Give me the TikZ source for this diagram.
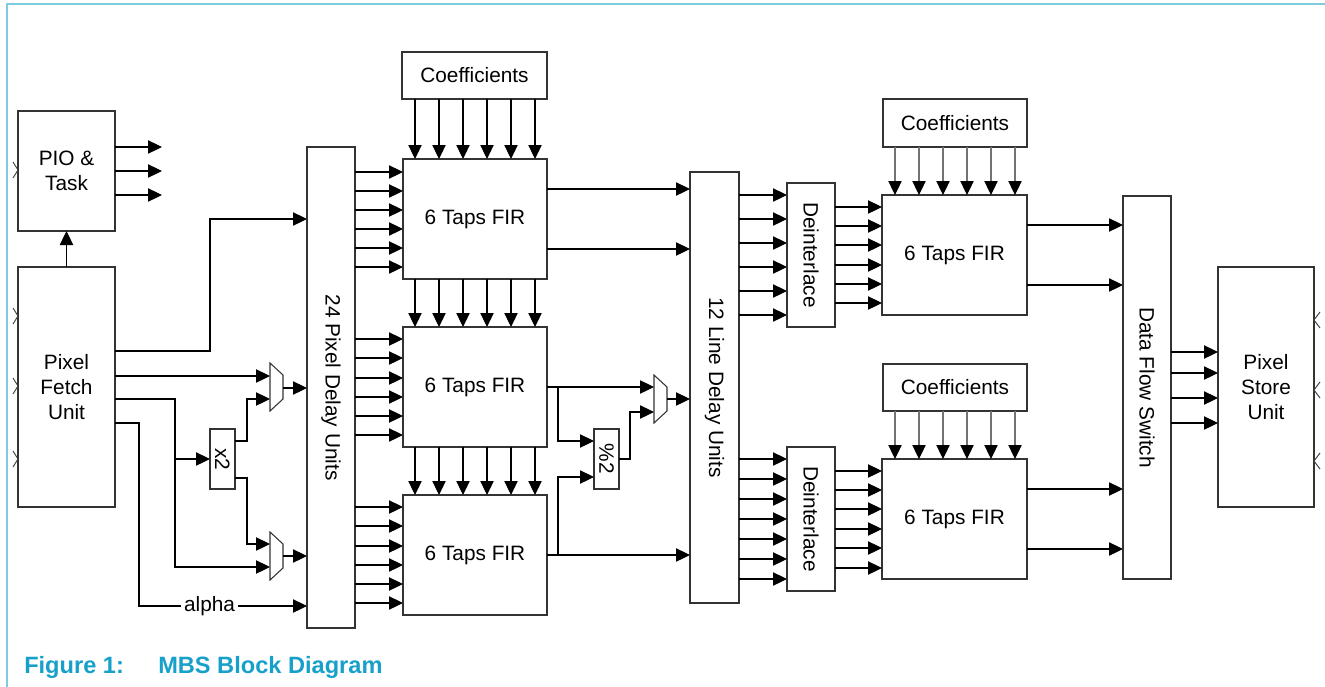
\documentclass[tikz,border=0pt]{standalone}
\usepackage{fontspec}
\usepackage{graphicx}
\setmainfont{Liberation Sans}
\usetikzlibrary{arrows.meta}
\definecolor{frame}{RGB}{125,203,224}
\definecolor{capc}{RGB}{22,160,202}
\begin{document}
\begin{tikzpicture}[x=0.75pt,y=-0.75pt,
  box/.style={draw=black!80, line width=0.8pt, fill=white, outer sep=0pt, inner sep=0pt,
              font=\fontsize{15.6}{19}\selectfont, align=center},
  muxbox/.style={draw=black!80, line width=0.8pt, fill=white},
  arr/.style={-{Triangle[length=10.5pt,width=10pt]}, line width=0.8pt, black},
  arrg/.style={-{Triangle[length=10.5pt,width=10pt,color=black]}, line width=0.8pt, draw=black!55},
  chev/.style={draw=black!75, line width=0.7pt},
  lbl/.style={font=\fontsize{15.6}{19}\selectfont, fill=white, inner sep=2pt},
  capstyle/.style={anchor=base west, inner sep=0pt, text=capc, font=\bfseries\fontsize{17.7}{21}\selectfont}]
\useasboundingbox (0,0) rectangle (1325,686);
\fill[white] (0,0) rectangle (1325,686);
\draw[frame, line width=1.6pt] (7,690) -- (7,4) -- (1330,4);

\newcommand\bx[6]{\node[box, minimum width={(#4-#2)*0.75pt}, minimum height={(#5-#3)*0.75pt}] (#1) at ({(#2+#4)/2},{(#3+#5)/2}) {#6};}

\bx{pio}{18}{111}{115}{231}{PIO \&\\Task}
\bx{pfu}{18}{267}{115}{507}{Pixel\\Fetch\\Unit}
\bx{xtwo}{210}{429}{235}{489}{\rotatebox{-90}{x2}}
\bx{pdu}{307}{147}{355}{628}{\rotatebox{-90}{24 Pixel Delay Units}}
\bx{coefA}{402}{52}{547}{99}{Coefficients}
\bx{firA}{403}{159}{547}{279}{6 Taps FIR}
\bx{firB}{403}{327}{547}{447}{6 Taps FIR}
\bx{firC}{403}{495}{547}{615}{6 Taps FIR}
\bx{pct}{594}{429}{619}{489}{\rotatebox{-90}{\%2}}
\bx{ldu}{690}{172}{739}{603}{\rotatebox{-90}{12 Line Delay Units}}
\bx{deiA}{787}{183}{835}{327}{\rotatebox{-90}{Deinterlace}}
\bx{deiB}{787}{447}{835}{591}{\rotatebox{-90}{Deinterlace}}
\bx{coefB}{883}{99}{1027}{147}{Coefficients}
\bx{firD}{882}{195}{1027}{315}{6 Taps FIR}
\bx{coefC}{883}{364}{1027}{411}{Coefficients}
\bx{firE}{882}{459}{1027}{579}{6 Taps FIR}
\bx{dfs}{1123}{196}{1171}{579}{\rotatebox{-90}{Data Flow Switch}}
\bx{psu}{1218}{267}{1314}{507}{Pixel\\Store\\Unit}

% multiplexers
\draw[muxbox] (270,363) -- (283,375) -- (283,399) -- (270,411) -- cycle;
\draw[muxbox] (270,532) -- (283,544) -- (283,568) -- (270,580) -- cycle;
\draw[muxbox] (654,375) -- (667,387) -- (667,411) -- (654,423) -- cycle;
\coordinate (m1a) at (270,376); \coordinate (m1b) at (270,399); \coordinate (m1o) at (283,388);
\coordinate (m2a) at (270,544); \coordinate (m2b) at (270,567); \coordinate (m2o) at (283,556);
\coordinate (m3a) at (654,387); \coordinate (m3b) at (654,412); \coordinate (m3o) at (667,399);

% PIO outputs
\foreach \yy [count=\k] in {147,171,195}{
  \coordinate (po\k) at (162,\yy);
  \draw[arr] (pio.east |- po\k) -- (po\k);
}
\draw[arr] (pfu.north) -- (pio.south);

% chevrons
\foreach \yy in {170}{ \draw[chev] (pio.west |- 0,\yy) ++(-5,-8) -- ++(5,8) -- ++(-5,8); }
\foreach \yy in {316,386,459}{ \draw[chev] (pfu.west |- 0,\yy) ++(-5,-8) -- ++(5,8) -- ++(-5,8); }
\foreach \yy in {320,390,461}{ \draw[chev] (psu.east |- 0,\yy) ++(6,-8) -- ++(-6,8) -- ++(6,8); }

% Pixel fetch wiring
\draw[arr] (pfu.east |- 0,351) -| (210,219) -- (pdu.west |- 0,219);
\draw[arr] (pfu.east |- 0,376) -- (m1a);
\draw[arr] (pfu.east |- 0,399) -| (175,567) -- (m2b);
\draw[arr] (175,459) -- (xtwo.west);
\draw[arr] (pfu.east |- 0,423) -| (139,606) -- node[lbl,pos=0.42]{alpha} (pdu.west |- 0,606);
\draw[arr] (xtwo.east |- 0,441) -| (247,399) -- (m1b);
\draw[arr] (xtwo.east |- 0,478) -| (247,544) -- (m2a);
\draw[arr] (m1o) -- (pdu.west |- m1o);
\draw[arr] (m2o) -- (pdu.west |- m2o);

% coefficient arrows (left)
\foreach \i [evaluate=\i as \xx using 415+24*\i] in {0,...,5}{
  \draw[arr] (coefA.south -| \xx,0) -- (firA.north -| \xx,0);
  \draw[arr] (firA.south -| \xx,0) -- (firB.north -| \xx,0);
  \draw[arr] (firB.south -| \xx,0) -- (firC.north -| \xx,0);
}
% delay units to FIRs
\foreach \yy in {172,191,210,229,248,267}{ \draw[arr] (pdu.east |- 0,\yy) -- (firA.west |- 0,\yy); }
\foreach \yy in {339,358,378,397,416,435}{ \draw[arr] (pdu.east |- 0,\yy) -- (firB.west |- 0,\yy); }
\foreach \yy in {507,526,546,565,584,603}{ \draw[arr] (pdu.east |- 0,\yy) -- (firC.west |- 0,\yy); }

% FIR outputs
\draw[arr] (firA.east |- 0,189) -- (ldu.west |- 0,189);
\draw[arr] (firA.east |- 0,249) -- (ldu.west |- 0,249);
\draw[arr] (firB.east) -- (m3a);
\draw[arr] (558,387) |- (pct.west |- 0,441);
\draw[arr] (firC.east) -- (ldu.west |- firC.east);
\draw[arr] (558,555) |- (pct.west |- 0,477);
\draw[arr] (pct.east) -| (630,412) -- (m3b);
\draw[arr] (m3o) -- (ldu.west |- m3o);

% line delay to deinterlacers
\foreach \yy in {195,219,243,267,291,315}{ \draw[arr] (ldu.east |- 0,\yy) -- (deiA.west |- 0,\yy); }
\foreach \yy in {459,479,499,519,539,559,579}{ \draw[arr] (ldu.east |- 0,\yy) -- (deiB.west |- 0,\yy); }
\foreach \yy in {207,226,245,265,284,303}{ \draw[arr] (deiA.east |- 0,\yy) -- (firD.west |- 0,\yy); }
\foreach \yy in {471,490,509,529,548,568}{ \draw[arr] (deiB.east |- 0,\yy) -- (firE.west |- 0,\yy); }

% coefficient arrows (right)
\foreach \i [evaluate=\i as \xx using 895+24*\i] in {0,...,5}{
  \draw[arrg] (coefB.south -| \xx,0) -- (firD.north -| \xx,0);
  \draw[arrg] (coefC.south -| \xx,0) -- (firE.north -| \xx,0);
}

% FIR to data flow switch
\foreach \yy in {225,285}{ \draw[arr] (firD.east |- 0,\yy) -- (dfs.west |- 0,\yy); }
\foreach \yy in {489,549}{ \draw[arr] (firE.east |- 0,\yy) -- (dfs.west |- 0,\yy); }
\foreach \yy in {352,373,398,423}{ \draw[arr] (dfs.east |- 0,\yy) -- (psu.west |- 0,\yy); }

% caption
\node[capstyle] (capA) at (24,673) {Figure 1:};
\node[capstyle] (capB) at (158,673) {MBS Block Diagram};
\end{tikzpicture}
\end{document}
